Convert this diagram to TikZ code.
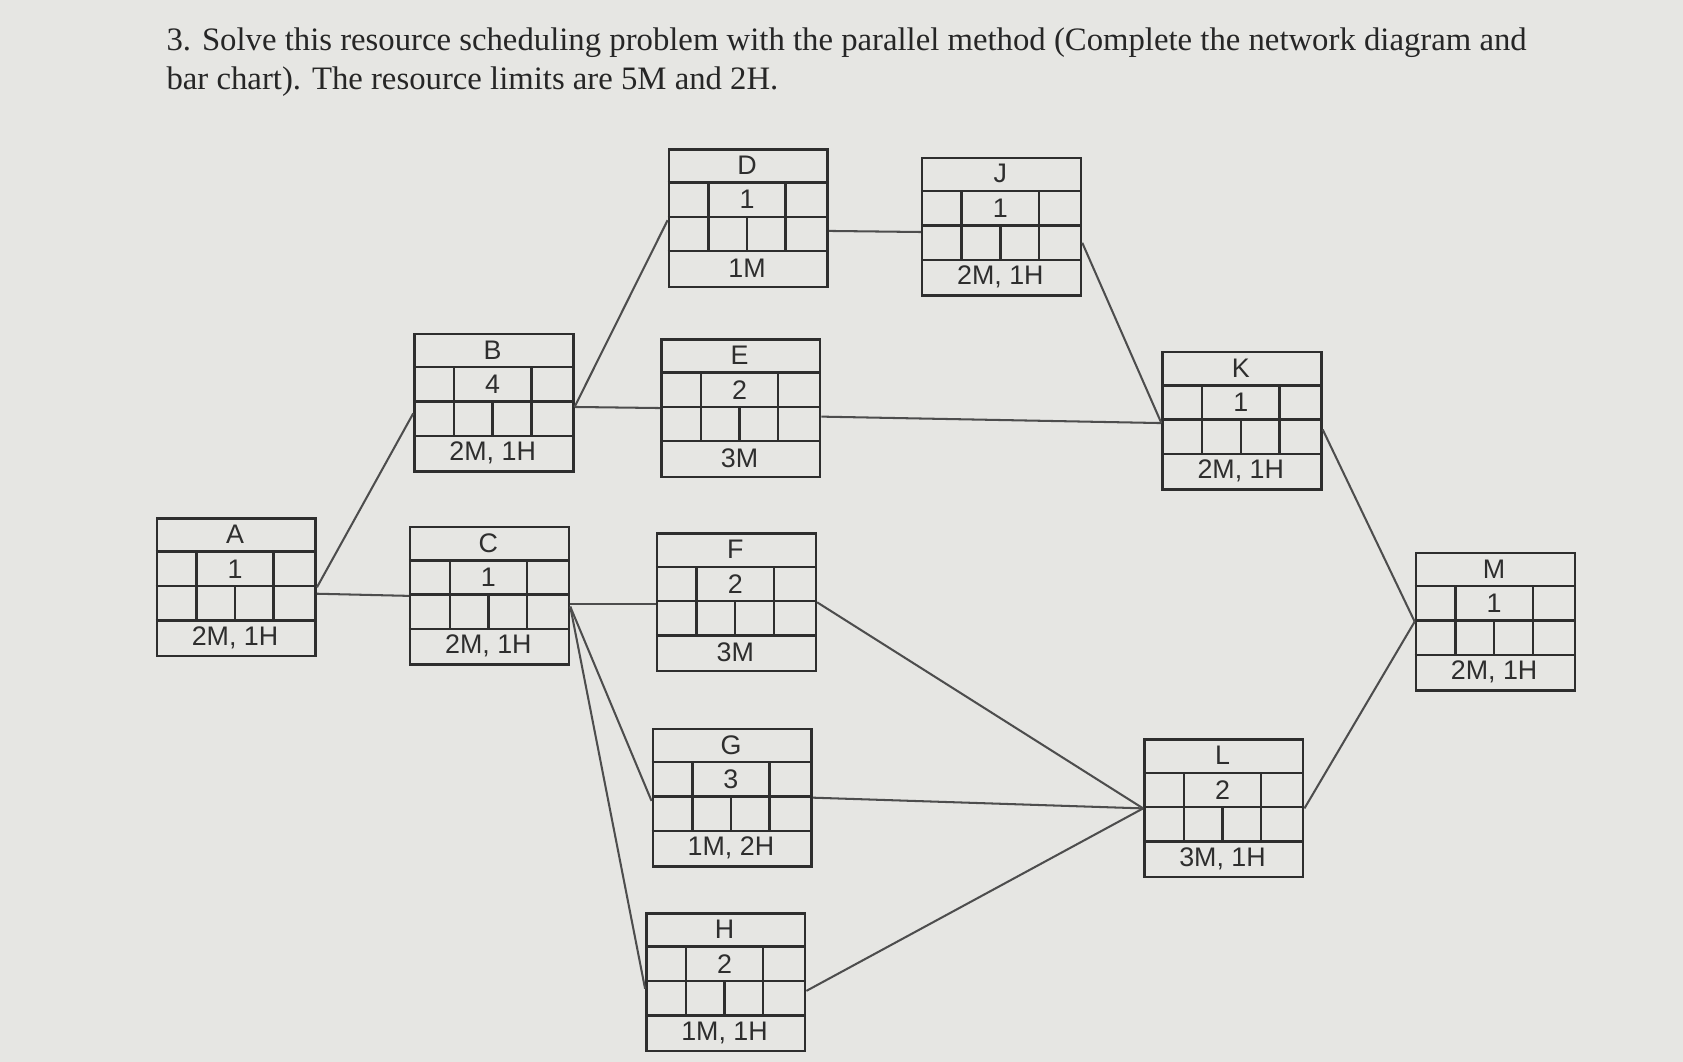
\documentclass[tikz,border=0pt]{standalone}
\usepackage{fontspec}
\setmainfont{Liberation Serif}
\newfontfamily\boxfont{Liberation Sans}
\definecolor{bg}{HTML}{E6E6E3}
\definecolor{ink}{HTML}{2E2E2E}
\tikzset{boxline/.style={line width=2.3pt,draw=ink},conn/.style={line width=1.9pt,draw=ink!85},
 lbl/.style={font=\boxfont\fontsize{25}{27}\selectfont,text=ink,inner sep=0}}
\newcommand\actbox[6]{%
 \node[boxline,minimum width=148pt,minimum height=128pt,anchor=north west,inner sep=0] (#1) at (#2,#3) {};
 \begin{scope}[shift={(#2,#3)}]
 \draw[boxline] (0,32)--(148,32) (0,64)--(148,64) (0,96)--(148,96) (38,32)--(38,96) (110,32)--(110,96) (74,64)--(74,96);
 \node[lbl] (#1l) at (74,16) {#4};
 \node[lbl] (#1d) at (74,48) {#5};
 \node[lbl] (#1r) at (74,112) {#6};
 \end{scope}}
\begin{document}
\begin{tikzpicture}[x=1pt,y=-1pt]
\fill[bg] (0,0) rectangle (1568,989);
\useasboundingbox (0,0) rectangle (1568,989);
\node[anchor=north west,align=left,inner sep=0,font=\fontsize{30.5}{36}\selectfont,text=black!85] (title) at (155,26)
 {3. Solve this resource scheduling problem with the parallel method (Complete the network diagram and\\bar chart). The resource limits are 5M and 2H.};
\actbox{A}{145}{482}{A}{1}{2M, 1H}
\actbox{B}{385}{310}{B}{4}{2M, 1H}
\actbox{C}{381}{490}{C}{1}{2M, 1H}
\actbox{D}{622}{138}{D}{1}{1M}
\actbox{E}{615}{315}{E}{2}{3M}
\actbox{F}{611}{496}{F}{2}{3M}
\actbox{G}{607}{678}{G}{3}{1M, 2H}
\actbox{H}{601}{850}{H}{2}{1M, 1H}
\actbox{J}{858}{146}{J}{1}{2M, 1H}
\actbox{K}{1082}{327}{K}{1}{2M, 1H}
\actbox{L}{1065}{688}{L}{2}{3M, 1H}
\actbox{M}{1318}{514}{M}{1}{2M, 1H}
\draw[conn] (A.east) -- ([yshift=-10pt]B.west);
\draw[conn] ([yshift=-6pt]A.east) -- (C.west);
\draw[conn] ([yshift=-4pt]B.east) -- ([yshift=-2pt]D.west);
\draw[conn] ([yshift=-4pt]B.east) -- (E.west);
\draw[conn] ([yshift=-12pt]D.east) -- ([yshift=-5pt]J.west);
\draw[conn] ([yshift=-15pt]J.east) -- ([yshift=-2pt]K.west);
\draw[conn] ([yshift=-8pt]E.east) -- ([yshift=-2pt]K.west);
\draw[conn] ([yshift=-8pt]C.east) -- ([yshift=-2pt]F.west);
\draw[conn] ([yshift=-10pt]C.east) -- ([yshift=-3pt]G.west);
\draw[conn] ([yshift=-10pt]C.east) -- ([yshift=-6pt]H.west);
\draw[conn] (F.east) -- (L.west);
\draw[conn] (G.east) -- (L.west);
\draw[conn] ([yshift=-8pt]H.east) -- (L.west);
\draw[conn] ([yshift=-8pt]K.east) -- (M.west);
\draw[conn] (L.east) -- (M.west);
\end{tikzpicture}
\end{document}
